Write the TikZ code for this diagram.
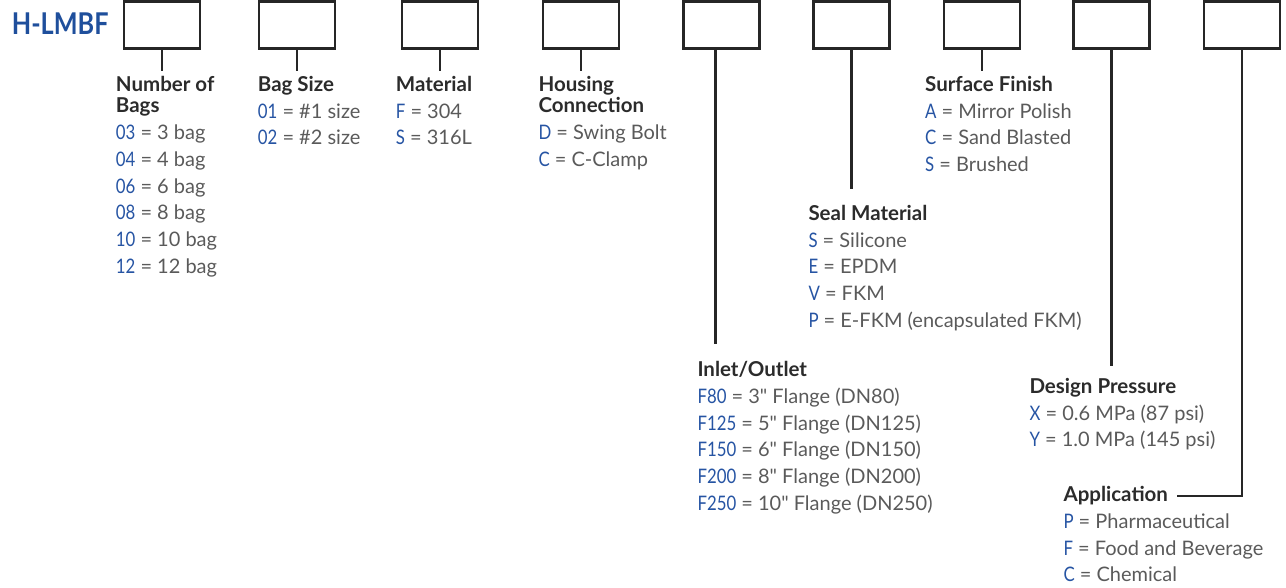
\documentclass[tikz,border=0pt]{standalone}
\usepackage{fontspec}
\setmainfont{Lato}
\newfontfamily\codefont[FakeStretch=0.84]{Lato}
\definecolor{codeblue}{HTML}{2654A3}
\definecolor{logoblue}{HTML}{1F4F9C}
\definecolor{headgray}{HTML}{2B2B2B}
\definecolor{textgray}{HTML}{5A5A5A}
\usetikzlibrary{positioning, calc}
\newcommand{\stem}[3]
{
	\draw[stemline] (#2.south) -- ([yshift=#1]#2.south |- #3.north)
}
\newcommand{\opt}[1]{{\codefont\color{codeblue}#1}}
\newcommand{\inch}{{\addfontfeatures{Ligatures=TeXOff}"}}

\begin{document}
\begin{tikzpicture}[x=1pt, y=-1pt,
	codebox/.style={draw=black!85, line width=2.3pt, minimum width=76pt, minimum height=47pt, inner sep=0pt},
	heading/.style={anchor=base west, inner sep=0pt, align=left, text=headgray,
		font=\fontsize{20.5}{21}\selectfont\bfseries},
	item/.style={anchor=base west, inner sep=0pt, text=textgray,
		font=\fontsize{20}{24}\selectfont},
	stemline/.style={draw=black!85, line width=2.3pt}]

	\useasboundingbox (0,0) rectangle (1286,588);

	\node[anchor=base west, inner sep=0pt, text=logoblue, font=\fontsize{30}{30}\selectfont\codefont\bfseries] (logo) at (11.7,35) {H-LMBF};

	\node[codebox] (b1) at (161.7,25) {};
	\node[codebox] (b2) at (296.9,25) {};
	\node[codebox] (b3) at (440.2,25) {};
	\node[codebox] (b4) at (580.9,25) {};
	\node[codebox] (b5) at (721.5,25) {};
	\node[codebox] (b6) at (851.5,25) {};
	\node[codebox] (b7) at (981.7,25) {};
	\node[codebox] (b8) at (1111.4,25) {};
	\node[codebox] (b9) at (1241.7,25) {};

	% number of bags
	\node[heading] (hNB) at (115.7,112.7) {Number of\\Bags};
	\node[item] (nb1) at (115.7,140) {\opt{03} = 3 bag};
	\node[item] (nb2) at (115.7,166.7) {\opt{04} = 4 bag};
	\node[item] (nb3) at (115.7,193.3) {\opt{06} = 6 bag};
	\node[item] (nb4) at (115.7,220) {\opt{08} = 8 bag};
	\node[item] (nb5) at (115.7,246.7) {\opt{10} = 10 bag};
	\node[item] (nb6) at (115.7,273.3) {\opt{12} = 12 bag};

	% bag size
	\node[heading] (hBS) at (257.7,91.7) {Bag Size};
	\node[item] (bs1) at (257.7,118.3) {\opt{01} = \#1 size};
	\node[item] (bs2) at (257.7,145) {\opt{02} = \#2 size};

	% material
	\node[heading] (hMat) at (395.7,91.7) {Material};
	\node[item] (mat1) at (395.7,118.3) {\opt{F} = 304};
	\node[item] (mat2) at (395.7,145) {\opt{S} = 316L};

	% housing connection
	\node[heading] (hHC) at (538.3,112.7) {Housing\\Connection};
	\node[item] (hc1) at (538.3,140) {\opt{D} = Swing Bolt};
	\node[item] (hc2) at (538.3,166.7) {\opt{C} = C-Clamp};

	% inlet/outlet
	\node[heading] (hIO) at (697.3,376.7) {Inlet/Outlet};
	\node[item] (io1) at (697.3,403.3) {\opt{F80} = 3\inch{} Flange (DN80)};
	\node[item] (io2) at (697.3,430) {\opt{F125} = 5\inch{} Flange (DN125)};
	\node[item] (io3) at (697.3,456.7) {\opt{F150} = 6\inch{} Flange (DN150)};
	\node[item] (io4) at (697.3,483.3) {\opt{F200} = 8\inch{} Flange (DN200)};
	\node[item] (io5) at (697.3,510) {\opt{F250} = 10\inch{} Flange (DN250)};

	% seal material
	\node[heading] (hSM) at (808.3,220.7) {Seal Material};
	\node[item] (sm1) at (808.3,247.3) {\opt{S} = Silicone};
	\node[item] (sm2) at (808.3,274) {\opt{E} = EPDM};
	\node[item] (sm3) at (808.3,300.7) {\opt{V} = FKM};
	\node[item] (sm4) at (808.3,327.3) {\opt{P} = E-FKM (encapsulated FKM)};

	% surface finish
	\node[heading] (hSF) at (925,91.7) {Surface Finish};
	\node[item] (sf1) at (925,118.3) {\opt{A} = Mirror Polish};
	\node[item] (sf2) at (925,145) {\opt{C} = Sand Blasted};
	\node[item] (sf3) at (925,171.7) {\opt{S} = Brushed};

	% design pressure
	\node[heading] (hDP) at (1029.3,393.3) {Design Pressure};
	\node[item] (dp1) at (1029.3,420) {\opt{X} = 0.6 MPa (87 psi)};
	\node[item] (dp2) at (1029.3,446.7) {\opt{Y} = 1.0 MPa (145 psi)};

	% application
	\node[heading] (hApp) at (1063.3,501.7) {Application};
	\node[item] (app1) at (1063.3,528.3) {\opt{P} = Pharmaceutical};
	\node[item] (app2) at (1063.3,555) {\opt{F} = Food and Beverage};
	\node[item] (app3) at (1063.3,581.7) {\opt{C} = Chemical};

	\stem{5pt}{b1}{hNB};
	\stem{5pt}{b2}{hBS};
	\stem{5pt}{b3}{hMat};
	\stem{5pt}{b4}{hHC};
	\draw[stemline] ([xshift=-6pt]b5.south) -- ([xshift=-6pt,yshift=17pt]b5.south |- hIO.north);
	\stem{16pt}{b6}{hSM};
	\stem{5pt}{b7}{hSF};
	\stem{12pt}{b8}{hDP};
	\draw[stemline, shorten >=9pt] (b9.south) |- (hApp.east);
\end{tikzpicture}
\end{document}
